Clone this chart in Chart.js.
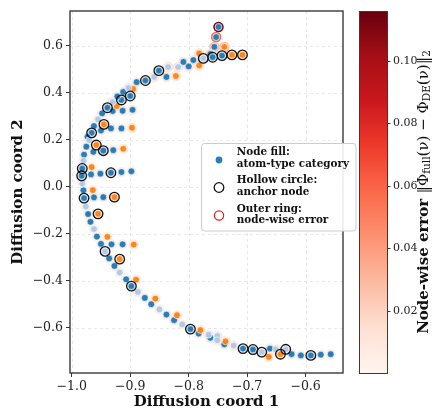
<!DOCTYPE html>
<html>
<head>
<meta charset="utf-8">
<script src="https://cdn.jsdelivr.net/npm/chart.js@4.4.1/dist/chart.umd.min.js"></script>
<style>
  html, body { margin: 0; padding: 0; background: #fff; }
  canvas { display: block; }
</style>
</head>
<body>
<canvas id="embedChart" width="436" height="410"></canvas>
<script>
// node coordinates (diffusion coords 1 and 2)
const nodeX = [
  -0.749, -0.753, -0.756, -0.739, -0.763, -0.782, -0.775, -0.759, -0.743, -0.726,
  -0.708, -0.782, -0.792, -0.800, -0.809, -0.818, -0.822, -0.838, -0.835, -0.851,
  -0.859, -0.874, -0.889, -0.895, -0.903, -0.900, -0.912, -0.915, -0.922, -0.923,
  -0.930, -0.939, -0.948, -0.930, -0.913, -0.896, -0.955, -0.945, -0.962, -0.950,
  -0.966, -0.933, -0.915, -0.897, -0.973, -0.970, -0.958, -0.975, -0.946, -0.963,
  -0.929, -0.912, -0.979, -0.980, -0.982, -0.966, -0.983, -0.967, -0.951, -0.933,
  -0.915, -0.898, -0.982, -0.980, -0.964, -0.979, -0.962, -0.946, -0.927, -0.976,
  -0.972, -0.955, -0.968, -0.962, -0.957, -0.939, -0.950, -0.932, -0.913, -0.894,
  -0.943, -0.936, -0.918, -0.927, -0.918, -0.907, -0.890, -0.898, -0.887, -0.875,
  -0.857, -0.864, -0.850, -0.838, -0.820, -0.825, -0.811, -0.797, -0.780, -0.783,
  -0.766, -0.763, -0.751, -0.751, -0.737, -0.739, -0.723, -0.707, -0.690, -0.675,
  -0.661, -0.663, -0.651, -0.643, -0.634, -0.624, -0.608, -0.591, -0.574, -0.557,
];
const nodeY = [
  0.681, 0.638, 0.596, 0.596, 0.566, 0.568, 0.547, 0.552, 0.559, 0.562,
  0.562, 0.517, 0.540, 0.513, 0.532, 0.510, 0.472, 0.468, 0.510, 0.495,
  0.468, 0.453, 0.446, 0.417, 0.421, 0.387, 0.404, 0.370, 0.385, 0.344,
  0.361, 0.337, 0.313, 0.323, 0.324, 0.328, 0.287, 0.266, 0.259, 0.240,
  0.230, 0.249, 0.249, 0.252, 0.213, 0.199, 0.178, 0.171, 0.154, 0.149,
  0.156, 0.162, 0.137, 0.111, 0.078, 0.084, 0.047, 0.053, 0.056, 0.060,
  0.063, 0.066, 0.014, -0.015, -0.014, -0.048, -0.045, -0.044, -0.044, -0.084,
  -0.116, -0.115, -0.149, -0.180, -0.212, -0.213, -0.243, -0.245, -0.245, -0.246,
  -0.275, -0.305, -0.308, -0.337, -0.365, -0.394, -0.395, -0.423, -0.448, -0.473,
  -0.476, -0.500, -0.522, -0.544, -0.547, -0.568, -0.586, -0.606, -0.610, -0.625,
  -0.630, -0.643, -0.635, -0.654, -0.658, -0.671, -0.676, -0.689, -0.693, -0.704,
  -0.689, -0.724, -0.693, -0.713, -0.692, -0.713, -0.718, -0.718, -0.715, -0.713,
];
// atom-type category per node: B = blue, O = orange, L = light blue
const nodeType = (
  'BBBOBOLBBO' + 'OOBBBLOBLB' + 'LBBOLBBBBO' + 'LBBBBBLOBB' + 'BBBOBLOBBB' +
  'BOBLBOBBBB' + 'BBLBOBBBOL' + 'BOBLBOBBBO' + 'LBOBLBOBLB' + 'OBLBOBLBOB' +
  'LBLLOBLBBL' + 'BOLOLBBBBB'
).split('');
// node-wise error ||Phi_full(v) - Phi_DE(v)||_2
const nodeErr = [
  0.112, 0.058, 0.030, 0.027, 0.015, 0.014, 0.010, 0.012, 0.010, 0.009,
  0.008, 0.012, 0.009, 0.010, 0.008, 0.012, 0.012, 0.008, 0.013, 0.009,
  0.012, 0.008, 0.006, 0.008, 0.010, 0.007, 0.006, 0.007, 0.006, 0.008,
  0.009, 0.006, 0.005, 0.006, 0.006, 0.008, 0.007, 0.007, 0.005, 0.005,
  0.005, 0.006, 0.006, 0.008, 0.004, 0.006, 0.006, 0.004, 0.005, 0.004,
  0.005, 0.007, 0.004, 0.005, 0.004, 0.005, 0.004, 0.004, 0.004, 0.005,
  0.005, 0.006, 0.004, 0.003, 0.005, 0.003, 0.004, 0.004, 0.006, 0.003,
  0.003, 0.005, 0.003, 0.004, 0.003, 0.005, 0.003, 0.004, 0.004, 0.006,
  0.004, 0.003, 0.005, 0.003, 0.004, 0.003, 0.006, 0.004, 0.004, 0.004,
  0.007, 0.004, 0.005, 0.005, 0.008, 0.006, 0.005, 0.006, 0.009, 0.007,
  0.008, 0.009, 0.008, 0.009, 0.010, 0.008, 0.009, 0.008, 0.008, 0.009,
  0.007, 0.011, 0.008, 0.009, 0.008, 0.006, 0.005, 0.005, 0.004, 0.004,
];
const anchorNodes = [6, 7, 8, 9, 10, 19, 21, 25, 27, 31, 37, 40, 46, 48, 54, 56, 59, 65, 68, 71,
  80, 82, 87, 97, 107, 108, 109, 113, 114, 117];

const xTicks = [-1.0, -0.9, -0.8, -0.7, -0.6];
const yTicks = [-0.6, -0.4, -0.2, 0.0, 0.2, 0.4, 0.6];
const cbTicks = [0.02, 0.04, 0.06, 0.08, 0.10];
const cbMax = 0.116;

const SERIF = '"DejaVu Serif", "Liberation Serif", serif';
const typeColors = { B: 'rgba(31,119,180,0.95)', O: 'rgba(255,127,14,0.95)', L: 'rgba(174,199,232,0.95)' };
const REDS = ['#fff5f0', '#fee0d2', '#fcbba1', '#fc9272', '#fb6a4a', '#ef3b2c', '#cb181d', '#a50f15', '#67000d'];

function hexRgb(h) {
  return [1, 3, 5].map(i => parseInt(h.slice(i, i + 2), 16));
}
function redsAt(t) {
  t = Math.min(1, Math.max(0, t));
  const p = t * (REDS.length - 1);
  const k = Math.min(REDS.length - 2, Math.floor(p));
  const f = p - k;
  const a = hexRgb(REDS[k]), b = hexRgb(REDS[k + 1]);
  const c = a.map((v, j) => Math.round(v + (b[j] - v) * f));
  return `rgb(${c[0]},${c[1]},${c[2]})`;
}
const fmt = v => v.toFixed(1).replace('-', '\u2212');

const allPts = nodeX.map((x, i) => ({ x, y: nodeY[i] }));
const typeSet = t => nodeX.map((x, i) => ({ x, y: nodeY[i], t: nodeType[i] })).filter(p => p.t === t);

const gridAndFrame = {
  id: 'gridAndFrame',
  beforeDatasetsDraw(chart) {
    const { ctx, chartArea: a, scales: { x, y } } = chart;
    ctx.save();
    ctx.strokeStyle = '#e2e2e2';
    ctx.lineWidth = 0.8;
    ctx.setLineDash([3, 3]);
    xTicks.forEach(v => {
      const px = Math.round(x.getPixelForValue(v)) + 0.5;
      ctx.beginPath(); ctx.moveTo(px, a.top); ctx.lineTo(px, a.bottom); ctx.stroke();
    });
    yTicks.forEach(v => {
      const py = Math.round(y.getPixelForValue(v)) + 0.5;
      ctx.beginPath(); ctx.moveTo(a.left, py); ctx.lineTo(a.right, py); ctx.stroke();
    });
    ctx.restore();
  },
  afterDatasetsDraw(chart) {
    const { ctx, chartArea: a } = chart;
    ctx.save();
    ctx.strokeStyle = '#3a3a3a';
    ctx.lineWidth = 1.4;
    ctx.strokeRect(a.left, a.top, a.right - a.left, a.bottom - a.top);
    ctx.restore();
  },
};

const legendBox = {
  id: 'legendBox',
  afterDraw(chart) {
    const { ctx } = chart;
    ctx.save();
    const bx = 201, by = 143, bw = 154.5, bh = 87.5;
    ctx.fillStyle = 'rgba(255,255,255,0.9)';
    ctx.strokeStyle = '#cccccc';
    ctx.lineWidth = 1;
    ctx.beginPath();
    ctx.roundRect(bx + 0.5, by + 0.5, bw, bh, 3);
    ctx.fill(); ctx.stroke();

    ctx.beginPath(); ctx.arc(219, 160, 3.4, 0, Math.PI * 2);
    ctx.fillStyle = typeColors.B; ctx.fill();
    ctx.beginPath(); ctx.arc(219, 187.5, 4.8, 0, Math.PI * 2);
    ctx.strokeStyle = '#111'; ctx.lineWidth = 1.3; ctx.stroke();
    ctx.beginPath(); ctx.arc(219, 215.5, 4.6, 0, Math.PI * 2);
    ctx.strokeStyle = '#d62728'; ctx.lineWidth = 1.3; ctx.stroke();

    ctx.fillStyle = '#111';
    ctx.font = `bold 10.4px ${SERIF}`;
    ctx.textBaseline = 'middle';
    ctx.textAlign = 'left';
    [['Node fill:', 152.7], ['atom-type category', 164],
     ['Hollow circle:', 180.7], ['anchor node', 192.3],
     ['Outer ring:', 209], ['node-wise error', 220.3]].forEach(([s, yy]) => ctx.fillText(s, 236.7, yy));
    ctx.restore();
  },
};

const colorBar = {
  id: 'colorBar',
  afterDraw(chart) {
    const { ctx } = chart;
    const cb = chart.scales.cb;
    const x0 = 359, x1 = 387;
    const yTop = cb.getPixelForValue(cbMax), yBot = cb.getPixelForValue(0);
    ctx.save();
    const g = ctx.createLinearGradient(0, yBot, 0, yTop);
    REDS.forEach((c, i) => g.addColorStop(i / (REDS.length - 1), c));
    ctx.fillStyle = g;
    ctx.fillRect(x0, yTop, x1 - x0, yBot - yTop);
    ctx.strokeStyle = '#3a3a3a';
    ctx.lineWidth = 1;
    ctx.strokeRect(x0 + 0.5, yTop + 0.5, x1 - x0, yBot - yTop);

    ctx.fillStyle = '#222';
    ctx.font = `11px ${SERIF}`;
    ctx.textAlign = 'left';
    ctx.textBaseline = 'middle';
    cbTicks.forEach(v => {
      const py = Math.round(cb.getPixelForValue(v)) + 0.5;
      ctx.beginPath(); ctx.moveTo(x1, py); ctx.lineTo(x1 + 3.5, py); ctx.stroke();
      ctx.fillText(v.toFixed(2), x1 + 6, py);
    });

    // rotated label with subscripts
    const parts = [
      ['Node-wise error ', `bold 15px ${SERIF}`, 0],
      ['\u2016\u03a6', `15px ${SERIF}`, 0],
      ['full', `10.5px ${SERIF}`, 3.5],
      ['(\u03bd) \u2212 \u03a6', `15px ${SERIF}`, 0],
      ['DE', `10.5px ${SERIF}`, 3.5],
      ['(\u03bd)\u2016', `15px ${SERIF}`, 0],
      ['2', `10.5px ${SERIF}`, 3.5],
    ];
    let total = 0;
    parts.forEach(p => { ctx.font = p[1]; total += ctx.measureText(p[0]).width; });
    ctx.translate(424, (yTop + yBot) / 2);
    ctx.rotate(-Math.PI / 2);
    ctx.fillStyle = '#111';
    ctx.textAlign = 'left';
    ctx.textBaseline = 'middle';
    let cx = -total / 2;
    parts.forEach(p => {
      ctx.font = p[1];
      ctx.fillText(p[0], cx, p[2]);
      cx += ctx.measureText(p[0]).width;
    });
    ctx.restore();
  },
};

const tickFont = { family: SERIF, size: 12.5 };
const titleFont = { family: SERIF, size: 15, weight: 'bold', lineHeight: 1 };

new Chart(document.getElementById('embedChart'), {
  type: 'scatter',
  data: {
    datasets: [
      {
        label: 'anchor node',
        data: anchorNodes.map(i => ({ x: nodeX[i], y: nodeY[i] })),
        pointRadius: 4.8,
        pointBackgroundColor: 'rgba(0,0,0,0)',
        pointBorderColor: '#111',
        pointBorderWidth: 1.3,
        order: 0,
      },
      ...['L', 'O', 'B'].map(t => ({
        label: 'type ' + t,
        data: typeSet(t),
        pointRadius: 3.4,
        pointBackgroundColor: typeColors[t],
        pointBorderColor: '#ffffff',
        pointBorderWidth: 0.6,
        order: 1,
      })),
      {
        label: 'node-wise error',
        data: allPts,
        pointRadius: 4.4,
        pointBackgroundColor: 'rgba(0,0,0,0)',
        pointBorderColor: nodeErr.map(e => redsAt(e / cbMax)),
        pointBorderWidth: 1.7,
        order: 3,
      },
    ],
  },
  options: {
    responsive: false,
    animation: false,
    layout: { padding: { top: 11, right: 93, left: 0, bottom: 0 } },
    plugins: { legend: { display: false }, tooltip: { enabled: false } },
    scales: {
      x: {
        type: 'linear',
        min: -1.003,
        max: -0.536,
        afterBuildTicks: s => { s.ticks = xTicks.map(value => ({ value })); },
        afterFit: s => { s.height = 37; },
        ticks: { callback: fmt, color: '#222', font: tickFont, padding: 2, maxRotation: 0 },
        grid: { drawOnChartArea: false, drawTicks: true, tickLength: 4, tickColor: '#333', tickWidth: 1 },
        border: { display: false },
        title: { display: true, text: 'Diffusion coord 1', color: '#111', font: titleFont, padding: { top: 0, bottom: 0 } },
      },
      y: {
        type: 'linear',
        min: -0.793,
        max: 0.749,
        afterBuildTicks: s => { s.ticks = yTicks.map(value => ({ value })); },
        afterFit: s => { s.width = 70; },
        ticks: { callback: fmt, color: '#222', font: tickFont, padding: 3 },
        grid: { drawOnChartArea: false, drawTicks: true, tickLength: 4, tickColor: '#333', tickWidth: 1 },
        border: { display: false },
        title: { display: true, text: 'Diffusion coord 2', color: '#111', font: titleFont, padding: { top: 10.5, bottom: 0 } },
      },
      cb: {
        type: 'linear',
        position: 'right',
        display: false,
        min: 0,
        max: cbMax,
      },
    },
  },
  plugins: [gridAndFrame, legendBox, colorBar],
});
</script>
</body>
</html>
